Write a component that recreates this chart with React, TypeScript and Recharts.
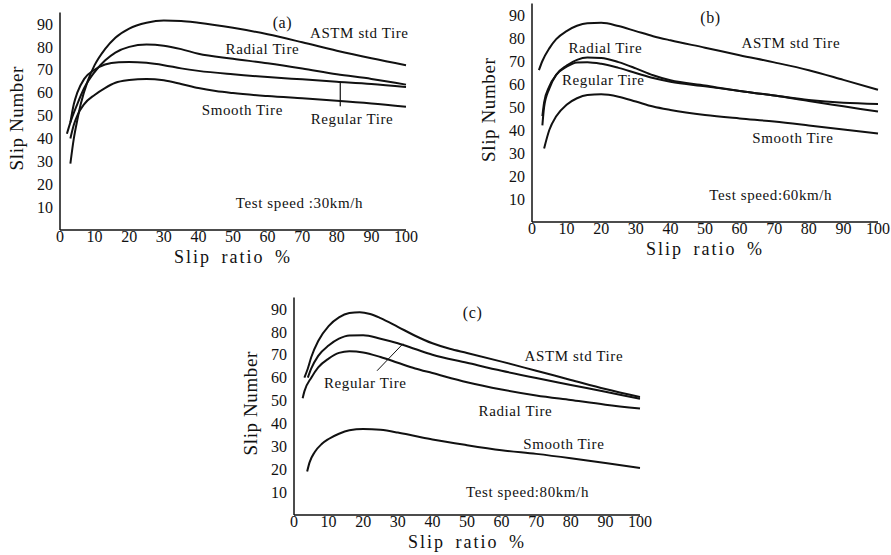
import React from 'react'
import { LineChart, Line, XAxis, YAxis, ReferenceDot, ReferenceLine, Label } from 'recharts'

type Pt = { x: number; y: number }

const xTicks = [0, 10, 20, 30, 40, 50, 60, 70, 80, 90, 100]
const yTicks = [10, 20, 30, 40, 50, 60, 70, 80, 90]

// (a) test speed 30 km/h
const astmA: Pt[] = [
  { x: 3, y: 29 }, { x: 4, y: 40 }, { x: 5, y: 48 }, { x: 6, y: 55 }, { x: 8, y: 65 },
  { x: 10, y: 72 }, { x: 13, y: 79 }, { x: 16, y: 84 }, { x: 20, y: 88 }, { x: 25, y: 90.5 },
  { x: 30, y: 91.5 }, { x: 35, y: 91.3 }, { x: 40, y: 90.5 }, { x: 50, y: 88.3 }, { x: 60, y: 85.5 },
  { x: 70, y: 82 }, { x: 80, y: 78.3 }, { x: 90, y: 75 }, { x: 100, y: 72 },
]
const radialA: Pt[] = [
  { x: 2, y: 42 }, { x: 3, y: 47 }, { x: 5, y: 55 }, { x: 7, y: 62 }, { x: 10, y: 69 },
  { x: 13, y: 74 }, { x: 16, y: 77.5 }, { x: 20, y: 80 }, { x: 25, y: 81 }, { x: 30, y: 80.5 },
  { x: 35, y: 79 }, { x: 40, y: 77 }, { x: 50, y: 74.8 }, { x: 60, y: 72.8 }, { x: 70, y: 70.5 },
  { x: 80, y: 68 }, { x: 90, y: 66 }, { x: 100, y: 63.5 },
]
const regularA: Pt[] = [
  { x: 3, y: 47 }, { x: 4, y: 55 }, { x: 5, y: 60 }, { x: 7, y: 66 }, { x: 10, y: 70 },
  { x: 13, y: 72.3 }, { x: 17, y: 73.3 }, { x: 20, y: 73.4 }, { x: 25, y: 73 }, { x: 30, y: 72 },
  { x: 35, y: 70.6 }, { x: 40, y: 69.5 }, { x: 50, y: 68 }, { x: 60, y: 66.8 }, { x: 70, y: 65.8 },
  { x: 80, y: 64.8 }, { x: 90, y: 63.8 }, { x: 100, y: 62.5 },
]
const smoothA: Pt[] = [
  { x: 3, y: 40 }, { x: 4, y: 46 }, { x: 5, y: 50 }, { x: 7, y: 55 }, { x: 10, y: 59 },
  { x: 13, y: 62 }, { x: 16, y: 64.3 }, { x: 20, y: 65.5 }, { x: 25, y: 66 }, { x: 30, y: 65.4 },
  { x: 35, y: 63.8 }, { x: 40, y: 62 }, { x: 45, y: 60.7 }, { x: 50, y: 59.8 }, { x: 60, y: 58.5 },
  { x: 70, y: 57.5 }, { x: 80, y: 56.5 }, { x: 90, y: 55.3 }, { x: 100, y: 53.8 },
]

// (b) test speed 60 km/h
const astmB: Pt[] = [
  { x: 2, y: 66 }, { x: 3, y: 70 }, { x: 5, y: 75.5 }, { x: 7, y: 79.5 }, { x: 10, y: 83 },
  { x: 13, y: 85.3 }, { x: 16, y: 86.4 }, { x: 20, y: 86.6 }, { x: 25, y: 85.2 }, { x: 30, y: 83 },
  { x: 35, y: 80.8 }, { x: 40, y: 79 }, { x: 50, y: 75.8 }, { x: 60, y: 72.5 }, { x: 70, y: 69.4 },
  { x: 80, y: 66 }, { x: 90, y: 61.8 }, { x: 100, y: 57.5 },
]
const radialB: Pt[] = [
  { x: 3, y: 42 }, { x: 3.5, y: 50 }, { x: 5, y: 58 }, { x: 7, y: 64 }, { x: 10, y: 68 },
  { x: 13, y: 70.5 }, { x: 16, y: 71.5 }, { x: 20, y: 71.3 }, { x: 25, y: 69.5 }, { x: 30, y: 66.8 },
  { x: 35, y: 63.8 }, { x: 40, y: 61.6 }, { x: 50, y: 59.3 }, { x: 60, y: 57 }, { x: 70, y: 55 },
  { x: 80, y: 53 }, { x: 90, y: 51.8 }, { x: 100, y: 51.3 },
]
const regularB: Pt[] = [
  { x: 3, y: 46 }, { x: 3.5, y: 52 }, { x: 5, y: 59 }, { x: 7, y: 64 }, { x: 10, y: 67.5 },
  { x: 13, y: 69.3 }, { x: 16, y: 69.5 }, { x: 20, y: 68.8 }, { x: 25, y: 67 }, { x: 30, y: 64.8 },
  { x: 35, y: 62.6 }, { x: 40, y: 61 }, { x: 50, y: 59 }, { x: 60, y: 57 }, { x: 70, y: 55 },
  { x: 80, y: 52.6 }, { x: 90, y: 50.3 }, { x: 100, y: 48 },
]
const smoothB: Pt[] = [
  { x: 3.5, y: 32 }, { x: 5, y: 40 }, { x: 7, y: 46 }, { x: 10, y: 51 }, { x: 13, y: 53.8 },
  { x: 16, y: 55.2 }, { x: 20, y: 55.5 }, { x: 25, y: 54.5 }, { x: 30, y: 52.4 }, { x: 35, y: 50.2 },
  { x: 40, y: 48.7 }, { x: 50, y: 46.5 }, { x: 60, y: 45 }, { x: 70, y: 43.7 }, { x: 80, y: 42 },
  { x: 90, y: 40.2 }, { x: 100, y: 38.5 },
]

// (c) test speed 80 km/h
const astmC: Pt[] = [
  { x: 3, y: 60 }, { x: 4, y: 64 }, { x: 5, y: 69 }, { x: 7, y: 76 }, { x: 10, y: 82.5 },
  { x: 13, y: 86.3 }, { x: 16, y: 88.2 }, { x: 19, y: 88.6 }, { x: 22, y: 87.8 }, { x: 25, y: 86 },
  { x: 30, y: 82.2 }, { x: 35, y: 78.3 }, { x: 40, y: 75 }, { x: 45, y: 72.6 }, { x: 50, y: 70.8 },
  { x: 60, y: 67 }, { x: 70, y: 63 }, { x: 80, y: 59 }, { x: 90, y: 55 }, { x: 100, y: 51.5 },
]
const regularC: Pt[] = [
  { x: 4, y: 60 }, { x: 5, y: 64 }, { x: 7, y: 69.5 }, { x: 10, y: 74 }, { x: 13, y: 77 },
  { x: 16, y: 78.4 }, { x: 20, y: 78.5 }, { x: 25, y: 77 }, { x: 30, y: 75 }, { x: 35, y: 72.5 },
  { x: 40, y: 70 }, { x: 50, y: 66.5 }, { x: 60, y: 63 }, { x: 70, y: 59.8 }, { x: 80, y: 56.8 },
  { x: 90, y: 53.8 }, { x: 100, y: 50.8 },
]
const radialC: Pt[] = [
  { x: 2.5, y: 51 }, { x: 3, y: 54 }, { x: 5, y: 60 }, { x: 7, y: 64.5 }, { x: 10, y: 68.3 },
  { x: 13, y: 70.8 }, { x: 16, y: 71.5 }, { x: 20, y: 71 }, { x: 25, y: 69 }, { x: 30, y: 66.5 },
  { x: 35, y: 64 }, { x: 40, y: 62 }, { x: 50, y: 58 }, { x: 60, y: 54.8 }, { x: 70, y: 52.2 },
  { x: 80, y: 50.2 }, { x: 90, y: 48.2 }, { x: 100, y: 46.5 },
]
const smoothC: Pt[] = [
  { x: 3.8, y: 19 }, { x: 4.5, y: 23 }, { x: 6, y: 27.5 }, { x: 8, y: 31 }, { x: 10, y: 33.2 },
  { x: 13, y: 35.5 }, { x: 16, y: 37 }, { x: 20, y: 37.6 }, { x: 25, y: 37.2 }, { x: 30, y: 36 },
  { x: 35, y: 34.5 }, { x: 40, y: 33 }, { x: 50, y: 30.5 }, { x: 60, y: 28.3 }, { x: 70, y: 26.7 },
  { x: 80, y: 24.8 }, { x: 90, y: 22.7 }, { x: 100, y: 20.5 },
]

const FONT = '"Liberation Serif", "DejaVu Serif", serif'
const INK = '#111'

function note(key: string, x: number, y: number, text: string, size = 15) {
  return (
    <ReferenceDot key={key} x={x} y={y} r={1} fill="none" stroke="none" ifOverflow="visible">
      <Label value={text} position="center" fontSize={size} fontFamily={FONT} fill={INK} letterSpacing={0.6} />
    </ReferenceDot>
  )
}

const yTitle = ({ viewBox }: any) => {
  const x = viewBox.x + 16
  const y = viewBox.y + viewBox.height / 2 - 3
  return (
    <text x={x} y={y} transform={`rotate(-90 ${x} ${y})`} textAnchor="middle" dominantBaseline="central"
      fontSize={19} fontFamily={FONT} fill={INK} letterSpacing={0.6}>
      Slip Number
    </text>
  )
}

const xTitle = ({ viewBox }: any) => {
  const x = viewBox.x + viewBox.width / 2
  const y = viewBox.y + 27
  return (
    <text x={x} y={y} textAnchor="middle" dominantBaseline="central"
      fontSize={18} fontFamily={FONT} fill={INK} letterSpacing={2} wordSpacing={4}>
      Slip ratio %
    </text>
  )
}

interface PanelProps {
  left: number
  top: number
  height: number
  marginTop: number
  series: Pt[][]
  children?: React.ReactNode
}

function Panel({ left, top, height, marginTop, series, children }: PanelProps) {
  const tick = { fill: INK, fontSize: 16, fontFamily: FONT }
  return (
    <div style={{ position: 'absolute', left, top }}>
      <LineChart width={420} height={height} margin={{ top: marginTop, right: 14, bottom: 0, left: 0 }}>
        <XAxis type="number" dataKey="x" domain={[0, 100]} ticks={xTicks} interval={0}
          height={40} tick={tick} tickLine={false} tickSize={1} tickMargin={0}
          axisLine={{ stroke: INK, strokeWidth: 1.5 }} allowDuplicatedCategory={false}>
          <Label content={xTitle} />
        </XAxis>
        <YAxis type="number" domain={[0, 95]} ticks={yTicks} interval={0} width={60}
          tick={tick} tickLine={false} tickSize={3} tickMargin={4}
          axisLine={{ stroke: INK, strokeWidth: 1.5 }}>
          <Label content={yTitle} />
        </YAxis>
        {series.map((d, i) => (
          <Line key={i} data={d} dataKey="y" type="monotone" stroke={INK} strokeWidth={2}
            dot={false} activeDot={false} isAnimationActive={false} />
        ))}
        {children}
      </LineChart>
    </div>
  )
}

export default function App() {
  return (
    <div style={{ position: 'absolute', left: 0, top: 0, width: 891, height: 555, background: '#fff', overflow: 'hidden' }}>
      <Panel left={0} top={0} height={270} marginTop={12.5} series={[astmA, radialA, regularA, smoothA]}>
        {note('ta', 64.3, 90.8, '(a)', 16)}
        {note('a1', 86.5, 86, 'ASTM std Tire')}
        {note('a2', 58.5, 79, 'Radial Tire')}
        {note('a3', 52.7, 52.4, 'Smooth Tire')}
        {note('a4', 84.4, 48.5, 'Regular Tire')}
        {note('a5', 69.2, 11.8, 'Test speed :30km/h')}
        <ReferenceLine segment={[{ x: 81, y: 64.8 }, { x: 81, y: 54 }]} stroke={INK} strokeWidth={1.2} ifOverflow="visible" />
      </Panel>
      <Panel left={472} top={0} height={262} marginTop={3.5} series={[astmB, radialB, regularB, smoothB]}>
        {note('tb', 51.6, 89, '(b)', 16)}
        {note('b1', 74.8, 77.8, 'ASTM std Tire')}
        {note('b2', 21.2, 75.7, 'Radial Tire')}
        {note('b3', 20.6, 61.7, 'Regular Tire')}
        {note('b4', 75.4, 36.5, 'Smooth Tire')}
        {note('b5', 69, 11.7, 'Test speed:60km/h')}
      </Panel>
      <Panel left={234} top={285} height={270} marginTop={12.5} series={[astmC, regularC, radialC, smoothC]}>
        {note('tc', 51.6, 88.5, '(c)', 16)}
        {note('c1', 80.9, 69.8, 'ASTM std Tire')}
        {note('c2', 20.6, 58, 'Regular Tire')}
        {note('c3', 64, 45.4, 'Radial Tire')}
        {note('c4', 78, 31, 'Smooth Tire')}
        {note('c5', 67.5, 10, 'Test speed:80km/h')}
        <ReferenceLine segment={[{ x: 24, y: 63 }, { x: 31.5, y: 74.8 }]} stroke={INK} strokeWidth={1} ifOverflow="visible" />
      </Panel>
    </div>
  )
}
